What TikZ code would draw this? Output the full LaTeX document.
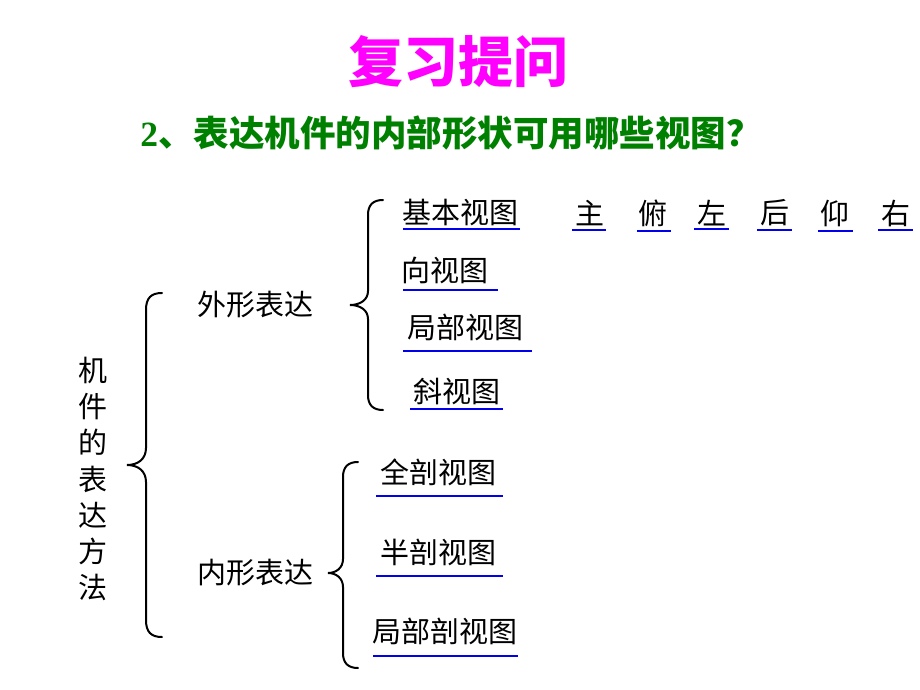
\documentclass[tikz,border=0pt]{standalone}
\usepackage{fontspec}
\setmainfont{Liberation Serif}
\newfontfamily\cjk{Noto Sans CJK SC}
\definecolor{titlemag}{RGB}{255,0,255}
\definecolor{qgreen}{RGB}{0,128,0}
\definecolor{ulblue}{RGB}{0,0,235}
\begin{document}
\begin{tikzpicture}[x=1pt,y=-1pt,
  body/.style={font=\cjk\fontsize{29}{29}\selectfont, inner sep=0pt, anchor=center},
  ul/.style={draw=ulblue, line width=2.8pt},
  brace/.style={draw=black, line width=2pt, line cap=round}]
\useasboundingbox[fill=white] (0,0) rectangle (920,690);

% titles
\node[font=\cjk\bfseries\fontsize{55}{55}\selectfont, text=titlemag, inner sep=0pt] (title) at (458,62) {复习提问};
\node[font=\bfseries\fontsize{35.5}{35.5}\selectfont, text=qgreen, inner sep=0pt] (q) at (451,133) {2{\cjk 、表达机件的内部形状可用哪些视图？}};

% left vertical label
\node[body, align=center, font=\cjk\fontsize{29}{36.3}\selectfont] (main) at (93,479) {机\\件\\的\\表\\达\\方\\法};

% second level
\node[body] (outer) at (255,305) {外形表达};
\node[body] (inner) at (255,573) {内形表达};

% third level
\node[body] (jb) at (460,212) {基本视图};
\node[body] (v1) at (590,213) {主};
\node[body] (v2) at (653,213) {俯};
\node[body] (v3) at (712,213) {左};
\node[body] (v4) at (775,213) {后};
\node[body] (v5) at (835,213) {仰};
\node[body] (v6) at (896,213) {右};
\node[body] (xs) at (445,270) {向视图};
\node[body] (jbs) at (465,327) {局部视图};
\node[body] (xie) at (457,392) {斜视图};
\node[body] (qp) at (438,472) {全剖视图};
\node[body] (bp) at (438,552) {半剖视图};
\node[body] (jp) at (445,631) {局部剖视图};

% underlines
\draw[ul] (403,229) -- (520,229);
\draw[ul] (572,230) -- (606,230);
\draw[ul] (637,231) -- (671,231);
\draw[ul] (694,229) -- (729,229);
\draw[ul] (757,230) -- (792,230);
\draw[ul] (818,231) -- (853,231);
\draw[ul] (878,230) -- (913,230);
\draw[ul] (403,290) -- (498,290);
\draw[ul] (403,351) -- (532,351);
\draw[ul] (410,409) -- (503,409);
\draw[ul] (376,496) -- (503,496);
\draw[ul] (376,576) -- (503,576);
\draw[ul] (373,656) -- (518,656);

% braces
\draw[brace] (162,293) .. controls (151,293) and (146,298) .. (146,310)
  -- (146,448) .. controls (146,459) and (138,465) .. (127,465)
  .. controls (138,465) and (146,471) .. (146,482)
  -- (146,620) .. controls (146,632) and (151,637) .. (162,637);
\draw[brace] (383,200) .. controls (373,200) and (368,205) .. (368,215)
  -- (368,291) .. controls (368,300) and (360,305) .. (350,305)
  .. controls (360,305) and (368,310) .. (368,319)
  -- (368,395) .. controls (368,405) and (373,410) .. (383,410);
\draw[brace] (358,462) .. controls (348,462) and (343,467) .. (343,477)
  -- (343,559) .. controls (343,568) and (336,573) .. (328,573)
  .. controls (336,573) and (343,578) .. (343,587)
  -- (343,653) .. controls (343,663) and (348,668) .. (358,668);
\end{tikzpicture}
\end{document}
